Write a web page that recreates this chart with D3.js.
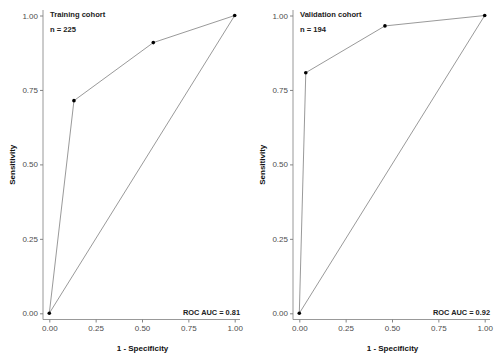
<!DOCTYPE html>
<html><head><meta charset="utf-8">
<script src="https://cdn.jsdelivr.net/npm/d3@7"></script>
<style>body{margin:0;background:#fff}svg{display:block}text{font-family:"Liberation Sans",Arial,sans-serif}</style>
</head><body>
<svg id="c" width="500" height="364"></svg>
<script>
const panels = ["Training cohort", "Validation cohort"];
const nLabels = ["n = 225", "n = 194"];
const aucLabels = ["ROC AUC = 0.81", "ROC AUC = 0.92"];
const trainFpr = [0, 0.133, 0.561, 1];
const trainTpr = [0, 0.714, 0.909, 1];
const validFpr = [0, 0.035, 0.462, 1];
const validTpr = [0, 0.808, 0.965, 1];
const tickValues = [0, 0.25, 0.5, 0.75, 1];
const tickLabels = ["0.00", "0.25", "0.50", "0.75", "1.00"];

const series = [
  trainFpr.map((f, i) => ({x: f, y: trainTpr[i]})),
  validFpr.map((f, i) => ({x: f, y: validTpr[i]}))
];

const svg = d3.select("#c");
const grey = "#7f7f7f";

panels.forEach((title, p) => {
  const ox = p * 250;
  const g = svg.append("g").attr("transform", `translate(${ox},0)`);
  const x = d3.scaleLinear().domain([0, 1]).range([49.3, 234.7]);
  const y = d3.scaleLinear().domain([0, 1]).range([313.3, 15.5]);
  const panelL = 43, panelR = 240, panelT = 10, panelB = 319.5;

  const xAxis = d3.axisBottom(x).tickValues(tickValues).tickFormat((d, i) => tickLabels[i]).tickSize(3).tickSizeOuter(0);
  const yAxis = d3.axisLeft(y).tickValues(tickValues).tickFormat((d, i) => tickLabels[i]).tickSize(3).tickSizeOuter(0);
  const gx = g.append("g").attr("transform", `translate(0,${panelB})`).call(xAxis);
  const gy = g.append("g").attr("transform", `translate(${panelL},0)`).call(yAxis);
  [gx, gy].forEach(a => {
    a.select(".domain").remove();
    a.selectAll(".tick line").attr("stroke", "#333").attr("stroke-width", 0.6);
    a.selectAll(".tick text").attr("fill", "#4d4d4d").style("font-size", "8px").attr("font-family", null);
  });
  gx.selectAll(".tick text").attr("dy", "0.71em").attr("y", 6);
  gy.selectAll(".tick text").attr("x", -5);
  g.append("line").attr("x1", panelL).attr("x2", panelR).attr("y1", panelB).attr("y2", panelB).attr("stroke", grey).attr("stroke-width", 0.8);
  g.append("line").attr("x1", panelL).attr("x2", panelL).attr("y1", panelT).attr("y2", panelB).attr("stroke", grey).attr("stroke-width", 0.8);

  g.append("text").attr("x", (panelL + panelR) / 2 + 1).attr("y", 351).attr("text-anchor", "middle")
    .style("font-size", "8px").style("font-weight", "bold").attr("fill", "#111").text("1 - Specificity");
  g.append("text").attr("transform", `translate(15,${(panelT + panelB) / 2}) rotate(-90)`).attr("text-anchor", "middle")
    .style("font-size", "8px").style("font-weight", "bold").attr("fill", "#111").text("Sensitivity");

  const data = series[p];
  const line = d3.line().x(d => x(d.x)).y(d => y(d.y));
  g.append("path").attr("d", line(data) + "Z").attr("fill", "none").attr("stroke", grey).attr("stroke-width", 0.8);
  g.selectAll("circle").data(data).join("circle").attr("cx", d => x(d.x)).attr("cy", d => y(d.y)).attr("r", 1.8).attr("fill", "#000");

  g.append("text").attr("x", 50).attr("y", 17).style("font-size", "7.6px").style("font-weight", "bold").attr("fill", "#222").text(title);
  g.append("text").attr("x", 50).attr("y", 32).style("font-size", "7.6px").style("font-weight", "bold").attr("fill", "#222").text(nLabels[p]);
  g.append("text").attr("x", 240).attr("y", 314.5).attr("text-anchor", "end").style("font-size", "7.4px").style("font-weight", "bold").attr("fill", "#222").text(aucLabels[p]);
});
</script>
</body></html>
